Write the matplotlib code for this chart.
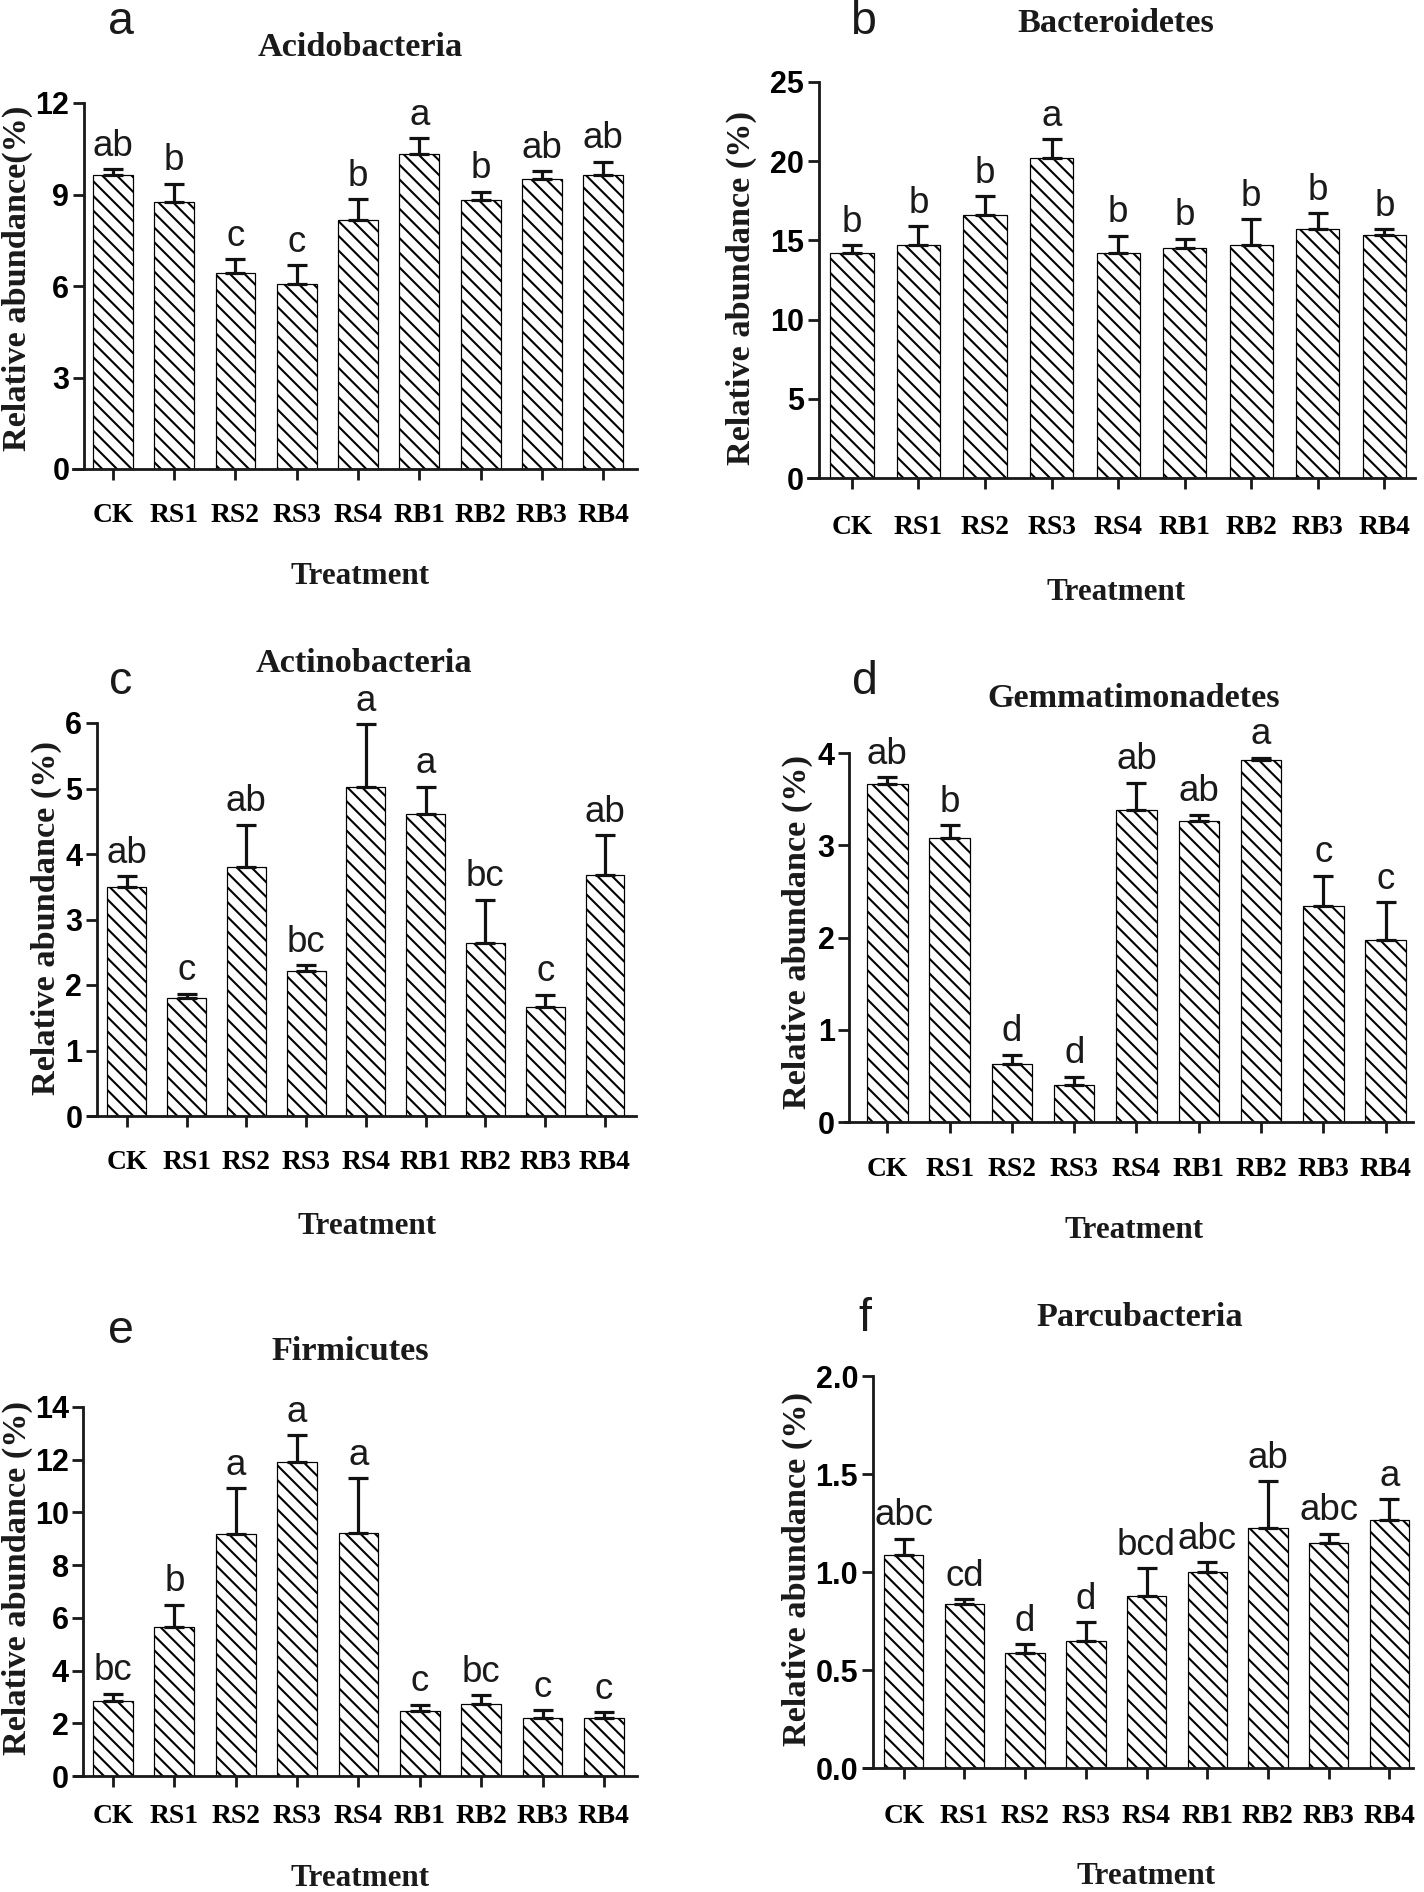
import matplotlib
matplotlib.use("Agg")
import matplotlib.pyplot as plt
import numpy as np

# === data ===
treatments = ["CK", "RS1", "RS2", "RS3", "RS4", "RB1", "RB2", "RB3", "RB4"]

acido_mean = [9.65, 8.75, 6.43, 6.06, 8.15, 10.34, 8.82, 9.52, 9.65]
acido_err = [0.17, 0.6, 0.44, 0.62, 0.7, 0.51, 0.27, 0.24, 0.42]
acido_sig = ["ab", "b", "c", "c", "b", "a", "b", "ab", "ab"]

bactero_mean = [14.2, 14.7, 16.6, 20.2, 14.2, 14.5, 14.7, 15.7, 15.35]
bactero_err = [0.5, 1.2, 1.2, 1.2, 1.1, 0.6, 1.65, 1.0, 0.35]
bactero_sig = ["b", "b", "b", "a", "b", "b", "b", "b", "b"]

actino_mean = [3.49, 1.80, 3.80, 2.21, 5.02, 4.61, 2.64, 1.66, 3.68]
actino_err = [0.17, 0.07, 0.65, 0.09, 0.96, 0.42, 0.66, 0.19, 0.61]
actino_sig = ["ab", "c", "ab", "bc", "a", "a", "bc", "c", "ab"]

gemma_mean = [3.66, 3.08, 0.63, 0.40, 3.38, 3.26, 3.92, 2.34, 1.97]
gemma_err = [0.08, 0.14, 0.10, 0.09, 0.30, 0.07, 0.03, 0.33, 0.41]
gemma_sig = ["ab", "b", "d", "d", "ab", "ab", "a", "c", "c"]

firmi_mean = [2.83, 5.67, 9.19, 11.9, 9.22, 2.45, 2.73, 2.21, 2.21]
firmi_err = [0.29, 0.82, 1.72, 1.03, 2.08, 0.25, 0.34, 0.29, 0.21]
firmi_sig = ["bc", "b", "a", "a", "a", "c", "bc", "c", "c"]

parcu_mean = [1.089, 0.838, 0.587, 0.65, 0.879, 0.998, 1.227, 1.146, 1.267]
parcu_err = [0.081, 0.022, 0.045, 0.095, 0.141, 0.051, 0.237, 0.05, 0.105]
parcu_sig = ["abc", "cd", "d", "d", "bcd", "abc", "ab", "abc", "a"]

W, H = 1424, 1892
DPI = 88
plt.rcParams["hatch.linewidth"] = 1.7

serif = "Liberation Serif"
sans = "Liberation Sans"

fig = plt.figure(figsize=(W / DPI, H / DPI), dpi=DPI)


def fx(x):
    return x / W


def fy(y):
    return 1 - y / H


# panel geometry in pixels: left, right, top, zero line, xlim, y-axis x, x label pad
panels = [
    dict(mean=acido_mean, err=acido_err, sig=acido_sig, title="Acidobacteria", letter="a",
         ylabel="Relative abundance(%)", ymax=12, yticks=[0, 3, 6, 9, 12], fmt="{:g}",
         box=(73, 637, 103, 469), xlim=(-0.65, 8.55), yax=-0.47, pad=18.5,
         title_xy=(360, 48), letter_xy=(121, 22), xl_xy=(360, 577), yl_xy=(17, 278)),
    dict(mean=bactero_mean, err=bactero_err, sig=bactero_sig, title="Bacteroidetes", letter="b",
         ylabel="Relative abundance (%)", ymax=25, yticks=[0, 5, 10, 15, 20, 25], fmt="{:g}",
         box=(808, 1415, 82, 478), xlim=(-0.66, 8.46), yax=-0.5, pad=21,
         title_xy=(1116, 24), letter_xy=(863, 22), xl_xy=(1116, 593), yl_xy=(741, 288)),
    dict(mean=actino_mean, err=actino_err, sig=actino_sig, title="Actinobacteria", letter="c",
         ylabel="Relative abundance (%)", ymax=6, yticks=[0, 1, 2, 3, 4, 5, 6], fmt="{:g}",
         box=(88, 636, 723, 1116), xlim=(-0.65, 8.52), yax=-0.5, pad=18.5,
         title_xy=(364, 664), letter_xy=(121, 682), xl_xy=(367, 1227), yl_xy=(46, 918)),
    dict(mean=gemma_mean, err=gemma_err, sig=gemma_sig, title="Gemmatimonadetes", letter="d",
         ylabel="Relative abundance (%)", ymax=4, yticks=[0, 1, 2, 3, 4], fmt="{:g}",
         box=(845, 1413, 753, 1122), xlim=(-0.68, 8.44), yax=-0.61, pad=19.4,
         title_xy=(1134, 698), letter_xy=(865, 682), xl_xy=(1134, 1230), yl_xy=(797, 932)),
    dict(mean=firmi_mean, err=firmi_err, sig=firmi_sig, title="Firmicutes", letter="e",
         ylabel="Relative abundance (%)", ymax=14, yticks=[0, 2, 4, 6, 8, 10, 12, 14], fmt="{:g}",
         box=(75, 637, 1407, 1776), xlim=(-0.62, 8.54), yax=-0.484, pad=13.6,
         title_xy=(350, 1352), letter_xy=(121, 1331), xl_xy=(360, 1879), yl_xy=(17, 1578)),
    dict(mean=parcu_mean, err=parcu_err, sig=parcu_sig, title="Parcubacteria", letter="f",
         ylabel="Relative abundance (%)", ymax=2.0, yticks=[0.0, 0.5, 1.0, 1.5, 2.0], fmt="{:.1f}",
         box=(864, 1413, 1376, 1768), xlim=(-0.655, 8.39), yax=-0.51, pad=20.2,
         title_xy=(1140, 1317), letter_xy=(865, 1319), xl_xy=(1146, 1877), yl_xy=(797, 1569)),
]

x = np.arange(len(treatments))

for p in panels:
    left, right, top, zero = p["box"]
    ax = fig.add_axes([fx(left), fy(zero), (right - left) / W, (zero - top) / H])
    ax.bar(x, p["mean"], width=0.65, color="white", edgecolor="black",
           linewidth=1.0, hatch="\\\\", zorder=2)
    ax.errorbar(x, p["mean"], yerr=[np.zeros(len(x)), p["err"]], fmt="none",
                ecolor="#111111", elinewidth=2.6, capsize=8.2, capthick=2.6,
                zorder=3, clip_on=False)
    for xi, m, e, s in zip(x, p["mean"], p["err"], p["sig"]):
        ax.annotate(s, (xi, m + e), xytext=(0, 11), textcoords="offset points",
                    ha="center", va="baseline", fontsize=30, family=sans,
                    color="#1a1a1a", annotation_clip=False)
    ax.set_xlim(*p["xlim"])
    ax.set_ylim(0, p["ymax"])
    for s in ["top", "right"]:
        ax.spines[s].set_visible(False)
    ax.spines["left"].set_position(("data", p["yax"]))
    for s in ["left", "bottom"]:
        ax.spines[s].set_linewidth(2.3)
        ax.spines[s].set_color("#1a1a1a")
    ax.set_xticks(x)
    ax.set_xticklabels(treatments, fontsize=22.5, fontweight="bold", family=serif)
    ax.set_yticks(p["yticks"])
    ax.set_yticklabels([p["fmt"].format(t) for t in p["yticks"]], fontsize=25,
                       fontweight="bold", family=sans)
    ax.tick_params(axis="x", direction="out", length=9, width=2.3, pad=p["pad"],
                   color="#1a1a1a")
    ax.tick_params(axis="y", direction="out", length=9, width=2.3, pad=3,
                   color="#1a1a1a")
    ax.patch.set_visible(False)

    fig.text(fx(p["title_xy"][0]), fy(p["title_xy"][1]), p["title"], ha="center",
             va="center", fontsize=28, fontweight="bold", family=serif, color="#1a1a1a")
    fig.text(fx(p["letter_xy"][0]), fy(p["letter_xy"][1]), p["letter"], ha="center",
             va="center", fontsize=38, family=sans, color="#1a1a1a")
    fig.text(fx(p["xl_xy"][0]), fy(p["xl_xy"][1]), "Treatment", ha="center",
             va="center", fontsize=25.5, fontweight="bold", family=serif, color="#1a1a1a")
    fig.text(fx(p["yl_xy"][0]), fy(p["yl_xy"][1]), p["ylabel"], ha="center",
             va="center", rotation=90, fontsize=28, fontweight="bold", family=serif,
             color="#1a1a1a")

fig.savefig("out.png", dpi=DPI)
